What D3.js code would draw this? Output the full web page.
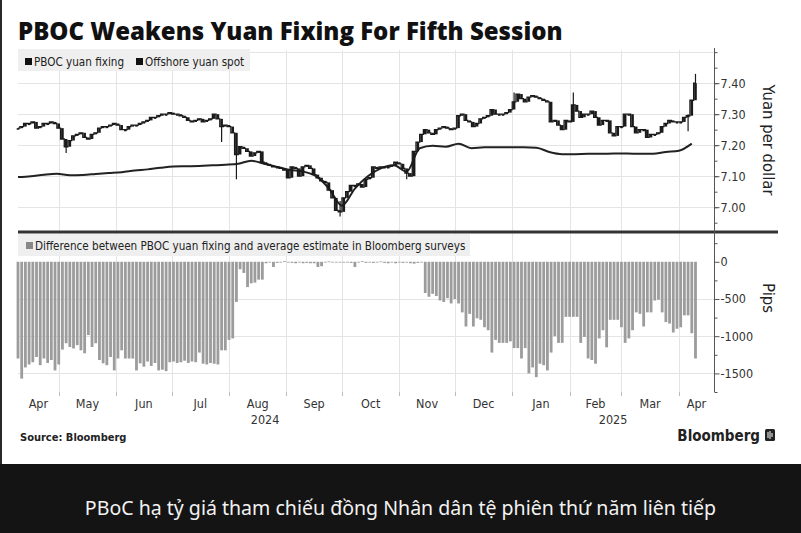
<!DOCTYPE html>
<html>
<head>
<meta charset="utf-8">
<script src="https://cdnjs.cloudflare.com/ajax/libs/d3/7.8.5/d3.min.js"></script>
<style>
html, body { margin: 0; padding: 0; background: #141414; }
svg { display: block; }
</style>
</head>
<body>
<svg id="chart" width="801" height="533"></svg>
<script>
// ---- data ----
// offshore yuan spot, closes on a 2-day grid starting 2024-04-09
const spotClose = [
  7.255, 7.26, 7.27, 7.27, 7.275, 7.255, 7.26, 7.27, 7.27, 7.275,
  7.27, 7.255, 7.22, 7.195, 7.215, 7.23, 7.235, 7.24, 7.225, 7.22,
  7.235, 7.24, 7.255, 7.26, 7.26, 7.265, 7.27, 7.265, 7.25, 7.25,
  7.26, 7.265, 7.265, 7.27, 7.275, 7.28, 7.29, 7.29, 7.295, 7.30,
  7.30, 7.305, 7.30, 7.30, 7.295, 7.29, 7.28, 7.275, 7.28, 7.285,
  7.275, 7.28, 7.285, 7.30, 7.285, 7.26, 7.265, 7.26, 7.24, 7.17,
  7.195, 7.19, 7.18, 7.165, 7.175, 7.18, 7.145, 7.14, 7.135, 7.13,
  7.13, 7.125, 7.12, 7.095, 7.13, 7.125, 7.10, 7.13, 7.135, 7.125,
  7.105, 7.095, 7.085, 7.08, 7.055, 7.03, 6.99, 6.985, 7.03, 7.05,
  7.07, 7.07, 7.075, 7.065, 7.09, 7.095, 7.13, 7.125, 7.13, 7.13,
  7.13, 7.135, 7.145, 7.14, 7.125, 7.11, 7.10, 7.18, 7.21, 7.235,
  7.25, 7.24, 7.235, 7.25, 7.255, 7.26, 7.255, 7.25, 7.255, 7.295,
  7.30, 7.28, 7.275, 7.26, 7.27, 7.285, 7.29, 7.295, 7.315, 7.30,
  7.30, 7.30, 7.305, 7.315, 7.34, 7.365, 7.35, 7.34, 7.355, 7.36,
  7.355, 7.35, 7.345, 7.34, 7.275, 7.28, 7.265, 7.25, 7.28, 7.275,
  7.33, 7.31, 7.29, 7.30, 7.30, 7.31, 7.29, 7.265, 7.28, 7.28,
  7.24, 7.23, 7.26, 7.26, 7.30, 7.30, 7.26, 7.24, 7.25, 7.25,
  7.225, 7.235, 7.235, 7.24, 7.26, 7.27, 7.28, 7.275, 7.275, 7.275,
  7.29, 7.295, 7.345, 7.40
];

// fixing minus average survey estimate, pips, same 2-day grid
const pipsDiff = [
  -1300, -1570, -1420, -1380, -1350, -1280, -1390, -1300, -1360, -1320,
  -1460, -1380, -1180, -1095, -1145, -1165, -1120, -1190, -1230, -985,
  -1145, -1095, -1320, -1365, -1390, -1280, -1460, -1300, -1190, -1300,
  -1300, -1300, -1460, -1365, -1410, -1340, -1400, -1360, -1460, -1450,
  -1470, -1350, -1340, -1360, -1350, -1330, -1360, -1340, -1350, -1220,
  -1370, -1380, -1360, -1370, -1380, -1190, -1190, -1050, -1030, -540,
  -100, -150, -340, -290, -280, -240, -240, -20, -10, -70,
  -15, -10, 10, -10, -15, -20, -10, -20, -15, -20,
  -20, -70, -60, -10, 5, -10, -5, 0, -10, -5,
  -15, -70, -10, 10, -15, -10, -15, -10, 5, -15,
  -20, -10, -20, -10, -15, -10, -20, -25, -15, -10,
  -420, -470, -430, -460, -520, -540, -490, -560, -500, -560,
  -680, -870, -700, -870, -760, -780, -880, -920, -1220, -1050,
  -1090, -1090, -1090, -1070, -1160, -1160, -1300, -1160, -1500, -1420,
  -1550, -1370, -1390, -1460, -1220, -1000, -1090, -1090, -740, -740,
  -740, -740, -1090, -1010, -1300, -1320, -1370, -1030, -920, -1150,
  -780, -780, -780, -880, -1090, -1030, -920, -680, -700, -870,
  -680, -680, -520, -510, -680, -810, -830, -950, -900, -880,
  -720, -720, -960, -1300
];

// PBOC yuan fixing, weekly from 2024-04-09
const fixing = [
  7.097, 7.100, 7.105, 7.108, 7.103, 7.104, 7.107, 7.110, 7.113, 7.118,
  7.122, 7.127, 7.131, 7.132, 7.133, 7.135, 7.137, 7.140, 7.150, 7.140,
  7.130, 7.120, 7.115, 7.100, 7.060, 7.005, 7.060, 7.100, 7.125, 7.135,
  7.115, 7.190, 7.198, 7.195, 7.205, 7.190, 7.193, 7.193, 7.193, 7.193,
  7.192, 7.178, 7.171, 7.171, 7.172, 7.172, 7.173, 7.173, 7.172, 7.172,
  7.178, 7.182, 7.205
];

// intraday extremes on the days with visible wicks
const wickDates = ["2024-05-05", "2024-07-28", "2024-08-05", "2024-09-30", "2024-11-05",
                   "2025-01-02", "2025-02-03", "2025-04-06", "2025-04-10"];
const wickLow  = [7.175, 7.21, 7.09, 6.97, 7.09, 7.33, 7.30, 7.245, 7.38];
const wickHigh = [7.215, 7.26, 7.175, 7.02, 7.12, 7.37, 7.37, 7.30, 7.43];

const topTicks = [7.00, 7.10, 7.20, 7.30, 7.40];
const bottomTicks = [0, -500, -1000, -1500];

// ---- setup ----
const W = 801, H = 533;
const condensed = "'DejaVu Sans Condensed', 'DejaVu Sans', sans-serif";
const parse = d3.timeParse('%Y-%m-%d');
const gridStart = new Date(2024, 3, 9);
const fixStart = new Date(2024, 3, 9);

const svg = d3.select('#chart');

svg.append('rect').attr('width', W).attr('height', H).attr('fill', '#141414');
svg.append('rect').attr('width', W).attr('height', 464).attr('fill', '#ffffff');
svg.append('rect').attr('width', 2).attr('height', 464).attr('fill', '#2a2a2a');

const x = d3.scaleTime()
    .domain([new Date(2024, 3, 9), new Date(2025, 3, 20)])
    .range([18, 714]);
const yTop = d3.scaleLinear().domain([6.92, 7.507]).range([232, 50]);
const yBot = d3.scaleLinear().domain([-1750, 400]).range([392, 232]);

const monthStarts = d3.timeMonth.range(new Date(2024, 4, 1), new Date(2025, 3, 2));

// gridlines
const grid = svg.append('g').attr('stroke', '#e4e4e4').attr('stroke-width', 1);
monthStarts.forEach(d => {
    const px = Math.round(x(d)) + 0.5;
    grid.append('line').attr('x1', px).attr('x2', px).attr('y1', 50).attr('y2', 392);
});
[7.0, 7.1, 7.2, 7.3, 7.4, 7.5].forEach(v => {
    const py = Math.round(yTop(v)) + 0.5;
    grid.append('line').attr('x1', 18).attr('x2', 714).attr('y1', py).attr('y2', py);
});
[-500, -1000, -1500].forEach(v => {
    const py = Math.round(yBot(v)) + 0.5;
    grid.append('line').attr('x1', 18).attr('x2', 714).attr('y1', py).attr('y2', py);
});

// ---- bottom panel bars ----
const gridDate = i => d3.timeDay.offset(gridStart, 2 * i);
svg.append('g').selectAll('rect')
    .data(pipsDiff)
    .join('rect')
    .attr('x', (d, i) => x(gridDate(i)) - 1.4)
    .attr('width', 2.8)
    .attr('y', d => yBot(Math.max(0, d)))
    .attr('height', d => Math.max(0.8, Math.abs(yBot(d) - yBot(0))))
    .attr('fill', '#9c9c9c');

// ---- top panel ----
const fixLine = d3.line()
    .x((d, i) => x(d3.timeDay.offset(fixStart, 7 * i)))
    .y(d => yTop(d))
    .curve(d3.curveMonotoneX);
svg.append('path')
    .datum(fixing)
    .attr('d', fixLine)
    .attr('fill', 'none')
    .attr('stroke', '#222')
    .attr('stroke-width', 2);

const spotStep = d3.line()
    .x((d, i) => x(gridDate(i)))
    .y(d => yTop(d))
    .curve(d3.curveStep);
svg.append('path')
    .datum(spotClose)
    .attr('d', spotStep)
    .attr('fill', 'none')
    .attr('stroke', '#1a1a1a')
    .attr('stroke-width', 1.3);

svg.append('g').selectAll('line')
    .data(wickDates)
    .join('line')
    .attr('x1', d => x(parse(d)))
    .attr('x2', d => x(parse(d)))
    .attr('y1', (d, i) => yTop(wickLow[i]))
    .attr('y2', (d, i) => yTop(wickHigh[i]))
    .attr('stroke', '#1a1a1a')
    .attr('stroke-width', 1.2);

svg.append('g').selectAll('rect')
    .data(spotClose)
    .join('rect')
    .attr('x', (d, i) => x(gridDate(i)) - 1.3)
    .attr('width', 2.6)
    .attr('y', (d, i) => yTop(Math.max(d, i ? spotClose[i - 1] : d)))
    .attr('height', (d, i) => Math.max(1.6, Math.abs(yTop(d) - yTop(i ? spotClose[i - 1] : d))))
    .attr('fill', '#1a1a1a');

// ---- legends ----
svg.append('rect').attr('x', 18).attr('y', 49).attr('width', 232).attr('height', 22).attr('fill', '#efefef');
svg.append('rect').attr('x', 25).attr('y', 58).attr('width', 7).attr('height', 7).attr('fill', '#111');
svg.append('text').attr('x', 34).attr('y', 65.5).text('PBOC yuan fixing')
    .attr('font-family', condensed).attr('font-size', 11.6).attr('fill', '#222');
svg.append('rect').attr('x', 136).attr('y', 58).attr('width', 7).attr('height', 7).attr('fill', '#111');
svg.append('text').attr('x', 145).attr('y', 65.5).text('Offshore yuan spot')
    .attr('font-family', condensed).attr('font-size', 11.6).attr('fill', '#222');

svg.append('rect').attr('x', 18).attr('y', 234).attr('width', 452).attr('height', 22).attr('fill', '#efefef');
svg.append('rect').attr('x', 26).attr('y', 242).attr('width', 7).attr('height', 7).attr('fill', '#888');
svg.append('text').attr('x', 35).attr('y', 249.5)
    .text('Difference between PBOC yuan fixing and average estimate in Bloomberg surveys')
    .attr('font-family', condensed).attr('font-size', 11.6).attr('fill', '#222');

// separator between panels
svg.append('line').attr('x1', 18).attr('x2', 778).attr('y1', 232).attr('y2', 232)
    .attr('stroke', '#333').attr('stroke-width', 3);

// ---- right axes ----
svg.append('line').attr('x1', 714.5).attr('x2', 714.5).attr('y1', 48).attr('y2', 392)
    .attr('stroke', '#555');

function styleAxis(g) {
    g.select('.domain').remove();
    g.selectAll('line').attr('stroke', '#555');
    g.selectAll('text').attr('font-family', condensed).attr('font-size', 12.5).attr('fill', '#333');
}

svg.append('g').attr('transform', 'translate(714.5,0)')
    .call(d3.axisRight(yTop).tickValues(d3.range(6.95, 7.52, 0.05)).tickSize(3).tickFormat(''))
    .call(styleAxis);
svg.append('g').attr('transform', 'translate(714.5,0)')
    .call(d3.axisRight(yTop).tickValues(topTicks).tickSize(5).tickPadding(1).tickFormat(d3.format('.2f')))
    .call(styleAxis);

svg.append('g').attr('transform', 'translate(714.5,0)')
    .call(d3.axisRight(yBot).tickValues([250, -250, -750, -1250, -1750]).tickSize(3).tickFormat(''))
    .call(styleAxis);
svg.append('g').attr('transform', 'translate(714.5,0)')
    .call(d3.axisRight(yBot).tickValues(bottomTicks).tickSize(5).tickPadding(1).tickFormat(d => String(d)))
    .call(styleAxis);

svg.append('text')
    .attr('transform', 'translate(763,140) rotate(90)')
    .attr('text-anchor', 'middle')
    .attr('font-family', condensed).attr('font-size', 16.5).attr('fill', '#222')
    .text('Yuan per dollar');
svg.append('text')
    .attr('transform', 'translate(763,298) rotate(90)')
    .attr('text-anchor', 'middle')
    .attr('font-family', condensed).attr('font-size', 16.5).attr('fill', '#222')
    .text('Pips');

// ---- x axis ----
const [d0, d1] = x.domain();
monthStarts.forEach(d => {
    const px = Math.round(x(d)) + 0.5;
    svg.append('line').attr('x1', px).attr('x2', px).attr('y1', 392).attr('y2', 396)
        .attr('stroke', '#bbb');
});
const monthLabels = d3.timeMonth.range(new Date(2024, 3, 1), new Date(2025, 3, 2));
svg.append('g').selectAll('text')
    .data(monthLabels)
    .join('text')
    .attr('x', d => (x(d3.max([d, d0])) + x(d3.min([d3.timeMonth.offset(d, 1), d1]))) / 2)
    .attr('y', 408)
    .attr('text-anchor', 'middle')
    .attr('font-family', condensed).attr('font-size', 12.5).attr('fill', '#333')
    .text(d => d3.timeFormat('%b')(d));

const years = [2024, 2025];
svg.append('g').selectAll('text')
    .data(years)
    .join('text')
    .attr('x', d => (x(d3.max([new Date(d, 0, 1), d0])) + x(d3.min([new Date(d + 1, 0, 1), d1]))) / 2)
    .attr('y', 424)
    .attr('text-anchor', 'middle')
    .attr('font-family', condensed).attr('font-size', 12.5).attr('fill', '#333')
    .text(d => d);

// ---- title, source, branding ----
const title = svg.append('text').attr('x', 18).attr('y', 40)
    .attr('font-family', "'Open Sans', sans-serif").attr('font-weight', 800)
    .attr('font-size', 22).attr('fill', '#111')
    .text('PBOC Weakens Yuan Fixing For Fifth Session');
const tl = title.node().getComputedTextLength();
title.attr('font-size', 22 * 545 / tl);

svg.append('text').attr('x', 20).attr('y', 441)
    .attr('font-family', condensed).attr('font-weight', 'bold')
    .attr('font-size', 11).attr('fill', '#222')
    .text('Source: Bloomberg');

svg.append('text').attr('x', 760).attr('y', 441).attr('text-anchor', 'end')
    .attr('font-family', condensed).attr('font-weight', 600)
    .attr('font-size', 15).attr('fill', '#222')
    .text('Bloomberg');
svg.append('rect').attr('x', 765).attr('y', 429).attr('width', 10).attr('height', 12)
    .attr('rx', 1.5).attr('fill', '#222');
svg.append('path').attr('d', 'M768,432V438M770,431V439M772,433V437')
    .attr('stroke', '#fff').attr('stroke-width', 1);

// ---- caption ----
const cap = svg.append('text').attr('x', 400.5).attr('y', 515).attr('text-anchor', 'middle')
    .attr('font-family', "'Noto Sans', sans-serif").attr('font-size', 17).attr('fill', '#f2f2f2')
    .text('PBoC hạ tỷ giá tham chiếu đồng Nhân dân tệ phiên thứ năm liên tiếp');
const cl = cap.node().getComputedTextLength();
cap.attr('font-size', 17 * 632 / cl);
</script>
</body>
</html>
